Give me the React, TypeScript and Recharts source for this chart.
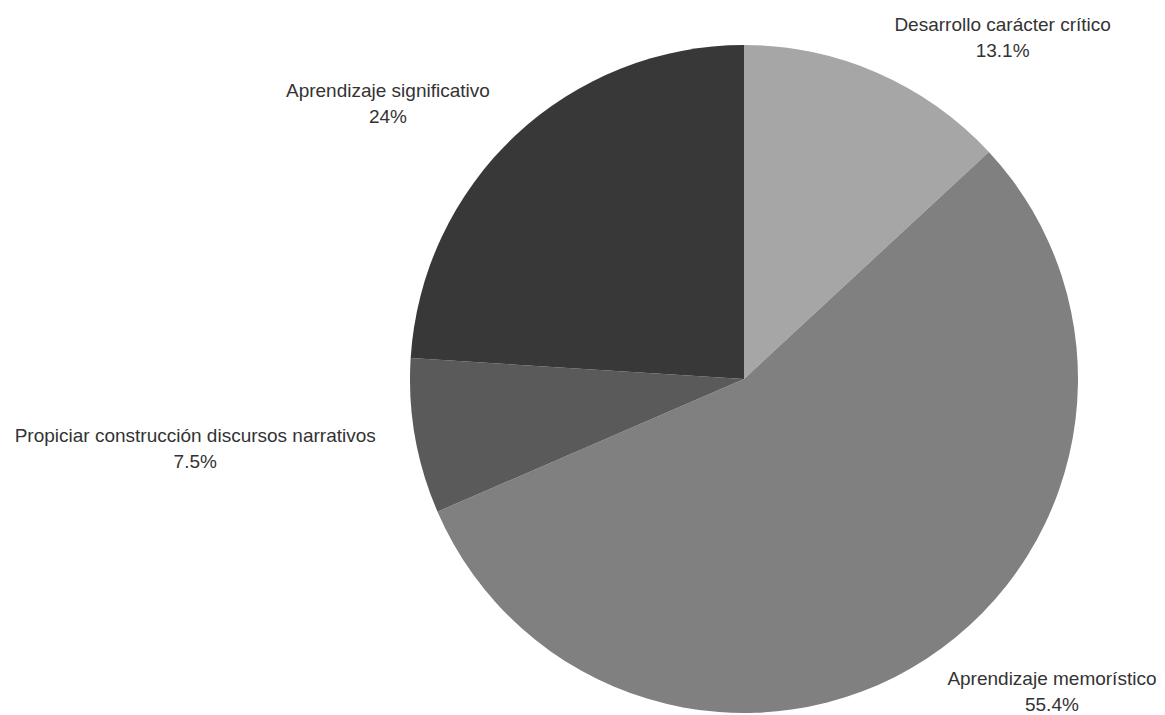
import { PieChart, Pie, Cell } from "recharts";

const categories = [
  "Desarrollo carácter crítico",
  "Aprendizaje memorístico",
  "Propiciar construcción discursos narrativos",
  "Aprendizaje significativo",
];
const shares = [13.1, 55.4, 7.5, 24];
const percentLabels = ["13.1%", "55.4%", "7.5%", "24%"];
const colors = ["#a6a6a6", "#808080", "#5a5a5a", "#383838"];

const data = categories.map((name, i) => ({ name, value: shares[i], pct: percentLabels[i] }));

const FONT_SIZE = 19;
const FONT_FAMILY = "'Liberation Sans', Arial, sans-serif";
const LINE = 26;

let ctx: CanvasRenderingContext2D | null = null;
function textWidth(s: string) {
  if (!ctx) ctx = document.createElement("canvas").getContext("2d");
  if (!ctx) return s.length * 9;
  ctx.font = `${FONT_SIZE}px ${FONT_FAMILY}`;
  return ctx.measureText(s).width;
}

const RAD = Math.PI / 180;
const clamp = (v: number) => Math.max(0, Math.min(1, v));

// label box sits outside the slice, its near corner on the mid-angle ray
function renderLabel(props: any) {
  const { cx, cy, outerRadius, midAngle, index } = props;
  const d = data[index];
  const cos = Math.cos(midAngle * RAD);
  const sinUp = Math.sin(midAngle * RAD);
  const r = outerRadius + 20;
  const px = cx + r * cos;
  const py = cy - r * sinUp;
  const w = Math.max(textWidth(d.name), textWidth(d.pct));
  const h = 34;
  const gx = clamp(0.5 - cos * 1.5);
  const gy = clamp(0.5 + sinUp * 1.5);
  const pad = Math.abs(cos) > 0.1 ? Math.sign(cos) * (8 + 12 * Math.abs(cos) ** 3) : 0;
  const left = px - w * gx + pad;
  const top = py - h * gy;
  const x = left + w / 2;
  const y1 = top + 10;
  return (
    <text x={x} y={y1} textAnchor="middle" fill="#333333" fontSize={FONT_SIZE} fontFamily={FONT_FAMILY}>
      <tspan x={x} y={y1}>{d.name}</tspan>
      <tspan x={x} y={y1 + LINE}>{d.pct}</tspan>
    </text>
  );
}

export default function App() {
  return (
    <div style={{ position: "absolute", left: 0, top: 0, width: 1165, height: 715, background: "#fff" }}>
      <PieChart width={1165} height={715} margin={{ top: 0, right: 0, bottom: 0, left: 0 }}>
        <Pie
          data={data}
          dataKey="value"
          nameKey="name"
          cx={744}
          cy={379}
          outerRadius={334}
          startAngle={90}
          endAngle={-270}
          stroke="none"
          label={renderLabel}
          labelLine={false}
          isAnimationActive={false}
        >
          {data.map((d, i) => (
            <Cell key={d.name} fill={colors[i]} />
          ))}
        </Pie>
      </PieChart>
    </div>
  );
}
